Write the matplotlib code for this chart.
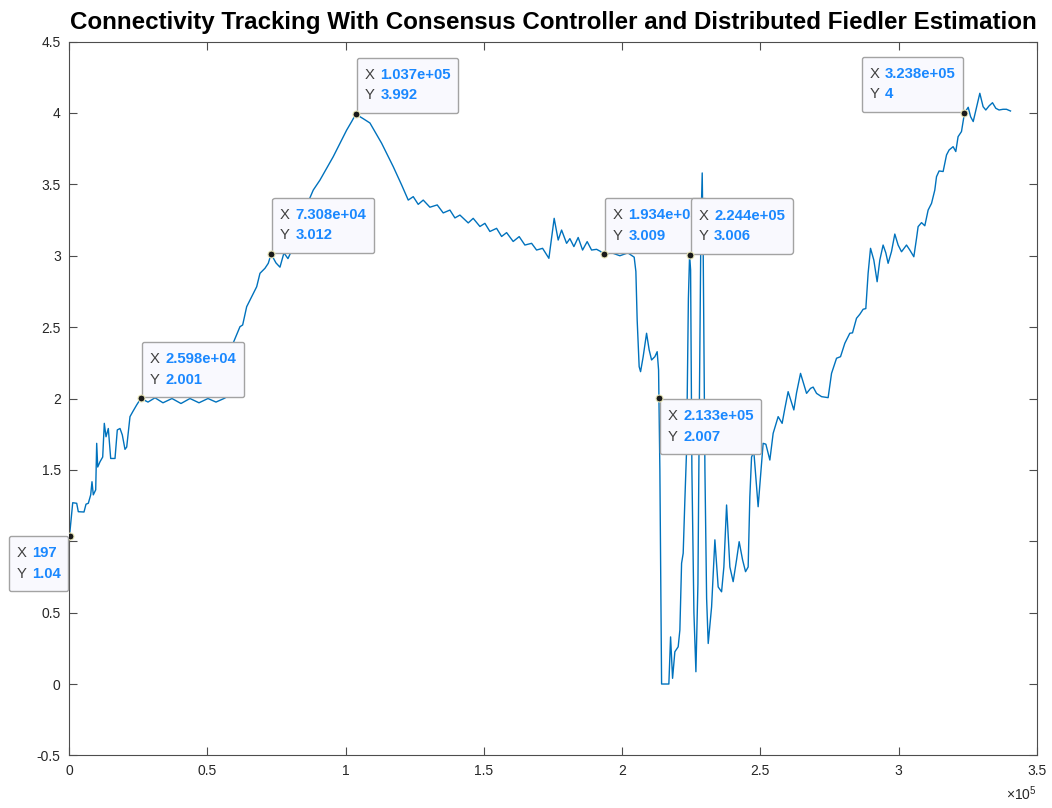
import matplotlib
matplotlib.use('Agg')
import matplotlib.pyplot as plt
from matplotlib.ticker import FuncFormatter, MultipleLocator
from matplotlib.offsetbox import TextArea, HPacker, VPacker, AnnotationBbox, DrawingArea

plt.rcParams['font.family'] = ['Liberation Sans', 'DejaVu Sans']
plt.rcParams['mathtext.fontset'] = 'custom'
plt.rcParams['mathtext.rm'] = 'Liberation Sans'

# lambda_2 trace (time step, estimated Fiedler value)
t = [197, 1340, 2780, 3360, 5420, 6150, 6980, 7840, 8310, 8780, 9650, 10010,
     10380, 11210, 12180, 12760, 13380, 14210, 15070, 16630, 17460, 18440,
     19270, 20240, 20860, 22050, 23030, 24470, 25980,
     28560, 31090, 33980, 37230, 40490, 43740, 47000, 50250, 53140, 56030,
     57840, 59390, 61820, 62790, 64240, 66050, 67860, 69050, 70850, 72050,
     73080, 74830, 76280, 77720, 79170, 80610, 82420, 84590, 86870, 88310,
     90740, 93160, 95540, 97970, 100390, 102200, 103700,
     106390, 108810, 113040, 117240, 120270, 122660, 124470, 126270, 128080,
     130500, 133140, 135310, 137730, 139540, 141350, 144350, 146150, 148580,
     150380, 152190, 154610, 156420, 158230, 160610, 162780, 164840, 167270,
     169070, 171240, 173520, 175430, 176880, 178110, 179920, 181110, 182560,
     184110, 185700, 187360, 188950, 190760, 192210, 193400,
     196300, 199190, 202080, 204360, 204970, 205440, 206160, 206670, 207610,
     208840, 209780, 210650, 211840, 212670, 213180, 213300, 213650, 214270,
     216900, 217520, 218240, 219070, 220270, 220880, 221500, 222080, 222690,
     223310, 223960, 224400, 224760, 225230, 225960, 226680, 227410, 227950,
     228490, 228960, 229330, 229940, 230550, 231130, 232350, 233540, 234730,
     235960, 236790, 237770, 238960, 240150, 241380, 242320, 243550, 244630,
     245570, 246180, 246800, 247630, 249180, 250410, 250990, 251970, 253420,
     254610, 256420, 257860, 258840, 260030, 262090, 263070, 264510, 265710,
     266690, 268130, 269070, 270300, 272110, 274490, 275720, 277530, 278970,
     280530, 282330, 283310, 284750, 285950, 287140, 288120, 288950, 289820,
     291010, 292210, 293180, 294370, 295350, 296180, 297410, 298600, 299800,
     301030, 302830, 304030, 305480, 306440, 307030, 308260, 309450, 310650,
     311880, 313060, 313680, 314620, 316070, 317300, 318240, 319680, 320650,
     321480, 322710, 323290, 323800, 325140, 326010, 326950, 328140, 329340,
     330530, 331500, 332700, 333920, 335120, 336300, 337750, 338980, 340430]

lam2 = [1.04, 1.27, 1.266, 1.207, 1.205, 1.26, 1.266, 1.325, 1.417, 1.325, 1.36, 1.686,
        1.52, 1.557, 1.59, 1.826, 1.732, 1.79, 1.58, 1.58, 1.78, 1.79,
        1.745, 1.644, 1.66, 1.873, 1.907, 1.955, 2.001,
        1.975, 2.005, 1.97, 2.0, 1.965, 2.0, 1.97, 2.0, 1.975, 2.0,
        2.02, 2.39, 2.503, 2.515, 2.643, 2.713, 2.783, 2.877, 2.912, 2.947,
        3.012, 2.95, 2.92, 3.02, 2.98, 3.04, 3.13, 3.22, 3.395, 3.46,
        3.53, 3.612, 3.694, 3.788, 3.88, 3.94, 3.992,
        3.96, 3.93, 3.788, 3.624, 3.496, 3.39, 3.414, 3.36, 3.39,
        3.34, 3.356, 3.30, 3.32, 3.265, 3.285, 3.23, 3.262, 3.205,
        3.227, 3.17, 3.192, 3.135, 3.162, 3.10, 3.134, 3.075, 3.087,
        3.04, 3.052, 2.982, 3.262, 3.11, 3.18, 3.087, 3.12, 3.064,
        3.128, 3.04, 3.099, 3.04, 3.045, 3.03, 3.009,
        3.02, 3.0, 3.02, 2.99, 2.89, 2.55, 2.223, 2.188, 2.293,
        2.457, 2.34, 2.27, 2.293, 2.328, 2.2, 2.007, 1.5, 0.0,
        0.0, 0.33, 0.04, 0.226, 0.261, 0.378, 0.846, 0.916, 1.289,
        1.64, 2.7, 3.006, 2.9, 1.5, 0.5, 0.086, 0.7, 2.0,
        3.2, 3.58, 3.0, 1.5, 0.6, 0.284, 0.54, 1.01, 0.68,
        0.646, 0.82, 1.254, 0.82, 0.717, 0.87, 0.997, 0.87, 0.787,
        0.82, 1.31, 1.59, 1.627, 1.242, 1.546, 1.686, 1.68, 1.569,
        1.756, 1.873, 1.826, 1.93, 2.048, 1.92, 2.04, 2.176, 2.1,
        2.036, 2.071, 2.08, 2.036, 2.013, 2.006, 2.176, 2.282, 2.293,
        2.387, 2.457, 2.46, 2.562, 2.59, 2.625, 2.63, 2.877, 3.052,
        2.97, 2.818, 2.97, 3.075, 3.02, 2.947, 3.03, 3.152, 3.075,
        3.028, 3.075, 3.04, 2.993, 3.12, 3.204, 3.232, 3.21, 3.32,
        3.367, 3.46, 3.554, 3.594, 3.59, 3.706, 3.741, 3.764, 3.73,
        3.834, 3.87, 3.94, 4.0, 4.04, 3.974, 3.94, 4.04, 4.138,
        4.044, 4.021, 4.05, 4.072, 4.033, 4.021, 4.026, 4.026, 4.014]

# data tips: x, y, which corner of the box sits on the point
tip_x = [197, 25980, 73080, 103700, 193400, 224400, 213300, 323800]
tip_y = [1.04, 2.001, 3.012, 3.992, 3.009, 3.006, 2.007, 4.0]
tip_corner = ['tr', 'bl', 'bl', 'bl', 'bl', 'bl', 'tl', 'br']

LINE_C = '#0072BD'
AX_C = '#4d4d4d'
VAL_C = '#1a88ff'

fig = plt.figure(figsize=(10.52, 8.08), dpi=100)
ax = fig.add_axes([0.0656, 0.0651, 0.9201, 0.8834])

ax.plot(t, lam2, color=LINE_C, lw=1.0, zorder=2)

ax.set_xlim(0, 3.5e5)
ax.set_ylim(-0.5, 4.5)
ax.xaxis.set_major_locator(MultipleLocator(0.5e5))
ax.yaxis.set_major_locator(MultipleLocator(0.5))
ax.xaxis.set_major_formatter(FuncFormatter(lambda v, p: '%g' % round(v / 1e5, 3)))
ax.yaxis.set_major_formatter(FuncFormatter(lambda v, p: '%g' % round(v, 3)))
ax.tick_params(direction='in', length=6, width=0.8, colors=AX_C, labelcolor='#262626',
               labelsize=10, top=True, right=True, pad=6)
for s in ax.spines.values():
    s.set_color(AX_C)
    s.set_linewidth(0.8)

ax.text(1.0, -0.04, r'$\times\mathregular{10}^{5}$', transform=ax.transAxes,
        ha='right', va='top', fontsize=10, color='#262626')

ax.set_title('Connectivity Tracking With Consensus Controller and Distributed Fiedler Estimation',
             fontsize=17.4, fontweight='bold', pad=9)

# datatips
align = {'bl': ((0, 0), (2, 2)), 'br': ((1, 0), (-2, 2)),
         'tl': ((0, 1), (2, -2)), 'tr': ((1, 1), (-2, -1))}
pad_px = 7
for i, (xv, yv, c) in enumerate(zip(tip_x, tip_y, tip_corner)):
    ax.plot(xv, yv, 'o', ms=5, mfc='#1a1a1a', mec='#e8e6b8', mew=0.8, zorder=20 + 2 * i)
    rows = []
    for lab, val in (('X', xv), ('Y', yv)):
        rows.append(HPacker(children=[
            TextArea(lab, textprops=dict(fontsize=10.7, color='#404040')),
            TextArea('%.4g' % val, textprops=dict(fontsize=10.7, color=VAL_C, fontweight='bold'))],
            sep=4, pad=0, align='baseline'))
    inner = VPacker(children=rows, sep=4.5, pad=0, align='left')
    box = VPacker(children=[DrawingArea(0, 2), inner, DrawingArea(0, 2)], sep=0, pad=0,
                  align='left')
    (bx, by), (ox, oy) = align[c]
    sx = 1 if bx == 0 else -1
    sy = 1 if by == 0 else -1
    ab = AnnotationBbox(box, (xv, yv), xybox=(ox + sx * pad_px, oy + sy * pad_px),
                        xycoords='data', boxcoords='offset pixels', box_alignment=(bx, by),
                        frameon=True, pad=0,
                        bboxprops=dict(boxstyle='round,pad=0.55,rounding_size=0.15',
                                       fc='#f9f9fe', ec='#a3a3a3', lw=1.0))
    ab.set_zorder(19 + 2 * i)
    ax.add_artist(ab)

fig.savefig('out.png', dpi=100)
